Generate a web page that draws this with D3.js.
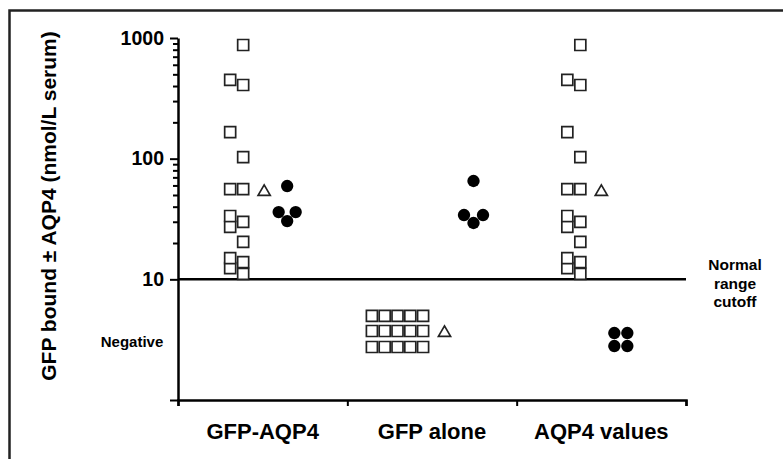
<!DOCTYPE html>
<html>
<head>
<meta charset="utf-8">
<script src="https://cdn.jsdelivr.net/npm/d3@7"></script>
<style>
  html, body { margin: 0; padding: 0; background: #fff; }
  svg { display: block; font-family: "Liberation Sans", Arial, Helvetica, sans-serif; font-weight: bold; }
  .tick text { font-family: "Liberation Sans", Arial, sans-serif; font-weight: bold; }
</style>
</head>
<body>
<svg id="chart" width="783" height="459"></svg>
<script>
// ── Data (nmol/L serum) ─────────────────────────────────────────────────────
const CATEGORIES = ["GFP-AQP4", "GFP alone", "AQP4 values"];

const gfpAqp4Squares  = [875, 449, 408, 166, 103, 56, 56, 33.5, 29.9, 27.2, 20.4, 15.0, 13.9, 12.4, 11.1];
const gfpAqp4Triangle = [53];
const gfpAqp4Dots     = [59.3, 36.1, 36.1, 30.4];

const gfpAloneSquares  = [4.97, 4.97, 4.97, 4.97, 4.97,
                          3.73, 3.73, 3.73, 3.73, 3.73,
                          2.75, 2.75, 2.75, 2.75, 2.75];
const gfpAloneTriangle = [3.6];
const gfpAloneDots     = [65.3, 34.1, 34.1, 29.3];

const aqp4Squares  = [875, 449, 408, 166, 103, 56, 56, 33.5, 29.9, 27.2, 20.4, 15.0, 13.9, 12.4, 11.1];
const aqp4Triangle = [53];
const aqp4Dots     = [3.59, 3.59, 2.80, 2.80];

const MAJOR_TICKS = [1, 10, 100, 1000];
const MINOR_TICKS = [20, 30, 40, 50, 60, 70, 80, 90, 200, 300, 400, 500, 600, 700, 800, 900];
const CUTOFF = 10;

// ── Layout ──────────────────────────────────────────────────────────────────
const AX_L = 178, AX_R = 686, AX_T = 38, AX_B = 400;

const svg = d3.select("#chart");

// frame around the figure
svg.append("rect")
  .attr("x", 9.5).attr("y", 10.5).attr("width", 820).attr("height", 520)
  .attr("fill", "none").attr("stroke", "#222").attr("stroke-width", 2.5);

const x = d3.scaleBand().domain(CATEGORIES).range([AX_L, AX_R]);
const xEdge = d3.scaleLinear().domain([0, CATEGORIES.length]).range([AX_L, AX_R]);
const y = d3.scaleLog().domain([1, 1000]).range([AX_B, AX_T]);

// y axis: major + minor ticks
const yAxisG = svg.append("g").attr("transform", `translate(${AX_L},0)`)
  .call(d3.axisLeft(y).tickValues(MAJOR_TICKS).tickSize(8).tickSizeOuter(0)
    .tickFormat(d => d === 1 ? "" : d3.format("d")(d)).tickPadding(6));
yAxisG.select(".domain").attr("stroke", "#000").attr("stroke-width", 2.5);
yAxisG.selectAll(".tick line").attr("stroke", "#000").attr("stroke-width", 2);
yAxisG.selectAll(".tick text").attr("font-size", 19.5).attr("fill", "#000");

const yMinorG = svg.append("g").attr("transform", `translate(${AX_L},0)`)
  .call(d3.axisLeft(y).tickValues(MINOR_TICKS).tickSize(5).tickFormat(""));
yMinorG.select(".domain").remove();
yMinorG.selectAll(".tick line").attr("stroke", "#000").attr("stroke-width", 2);

// x axis: ticks at category boundaries, labels at band centres
const xAxisG = svg.append("g").attr("transform", `translate(0,${AX_B})`)
  .call(d3.axisBottom(xEdge).tickValues(d3.range(CATEGORIES.length + 1)).tickSize(6).tickFormat(""));
xAxisG.select(".domain").attr("stroke", "#000").attr("stroke-width", 2.5);
xAxisG.selectAll(".tick line").attr("stroke", "#000").attr("stroke-width", 2);

const xLabG = svg.append("g").attr("transform", `translate(0,${AX_B})`)
  .call(d3.axisBottom(x).tickSize(0).tickPadding(23));
xLabG.select(".domain").remove();
xLabG.selectAll(".tick text").attr("font-size", 22).attr("fill", "#000");

// cutoff line
svg.append("line")
  .attr("x1", AX_L).attr("x2", AX_R)
  .attr("y1", y(CUTOFF)).attr("y2", y(CUTOFF))
  .attr("stroke", "#000").attr("stroke-width", 2.5);

// axis title
svg.append("text")
  .attr("transform", "rotate(-90)")
  .attr("x", -206).attr("y", 56)
  .attr("text-anchor", "middle").attr("font-size", 21).attr("fill", "#000")
  .text("GFP bound \u00b1 AQP4 (nmol/L serum)");

// annotations
svg.append("text")
  .attr("x", 132).attr("y", y(3) + 5)
  .attr("text-anchor", "middle").attr("font-size", 15).attr("fill", "#000")
  .text("Negative");

const cut = svg.append("text")
  .attr("x", 735).attr("y", y(CUTOFF) - 9)
  .attr("text-anchor", "middle").attr("font-size", 15.5).attr("fill", "#000");
["Normal", "range", "cutoff"].forEach((t, i) =>
  cut.append("tspan").attr("x", 735).attr("dy", i ? 18.5 : 0).text(t));

// ── Point groups: offset from band centre + dodge rule ──────────────────────
const GROUPS = [
  { cat: 0, values: gfpAqp4Squares,   shape: "square",   dx: -26,   dodge: "alternate", step: 13 },
  { cat: 0, values: gfpAqp4Triangle,  shape: "triangle", dx: 1.5,   dodge: "rows",      step: 13 },
  { cat: 0, values: gfpAqp4Dots,      shape: "dot",      dx: 24.5,  dodge: "rows",      step: 17 },
  { cat: 1, values: gfpAloneSquares,  shape: "square",   dx: -34.5, dodge: "rows",      step: 12.8 },
  { cat: 1, values: gfpAloneTriangle, shape: "triangle", dx: 12.5,  dodge: "rows",      step: 13 },
  { cat: 1, values: gfpAloneDots,     shape: "dot",      dx: 41.5,  dodge: "rows",      step: 19 },
  { cat: 2, values: aqp4Squares,      shape: "square",   dx: -27.5, dodge: "alternate", step: 13 },
  { cat: 2, values: aqp4Triangle,     shape: "triangle", dx: 0,     dodge: "rows",      step: 13 },
  { cat: 2, values: aqp4Dots,         shape: "dot",      dx: 19.5,  dodge: "rows",      step: 13 },
];

function dodge(g) {
  const sorted = g.values.slice().sort((a, b) => a - b);
  if (g.dodge === "alternate") {
    return sorted.map((v, i) => ({ v, off: (i % 2 === 0 ? 1 : -1) * g.step / 2 }));
  }
  const rows = d3.groups(sorted, v => v);
  return rows.flatMap(([v, arr]) =>
    arr.map((_, j) => ({ v, off: (j - (arr.length - 1) / 2) * g.step })));
}

const SYMBOLS = {
  square:   d3.symbol(d3.symbolSquare, 121)(),
  triangle: d3.symbol(d3.symbolTriangle, 64)(),
  dot:      d3.symbol(d3.symbolCircle, 120)(),
};

const pts = svg.append("g");
GROUPS.forEach(g => {
  const cx = x(CATEGORIES[g.cat]) + x.bandwidth() / 2 + g.dx;
  pts.append("g").selectAll("path")
    .data(dodge(g))
    .join("path")
    .attr("d", SYMBOLS[g.shape])
    .attr("transform", d => `translate(${cx + d.off},${y(d.v)})`)
    .attr("fill", g.shape === "dot" ? "#000" : "#fff")
    .attr("stroke", g.shape === "dot" ? "none" : "#222")
    .attr("stroke-width", 1.7);
});
</script>
</body>
</html>
